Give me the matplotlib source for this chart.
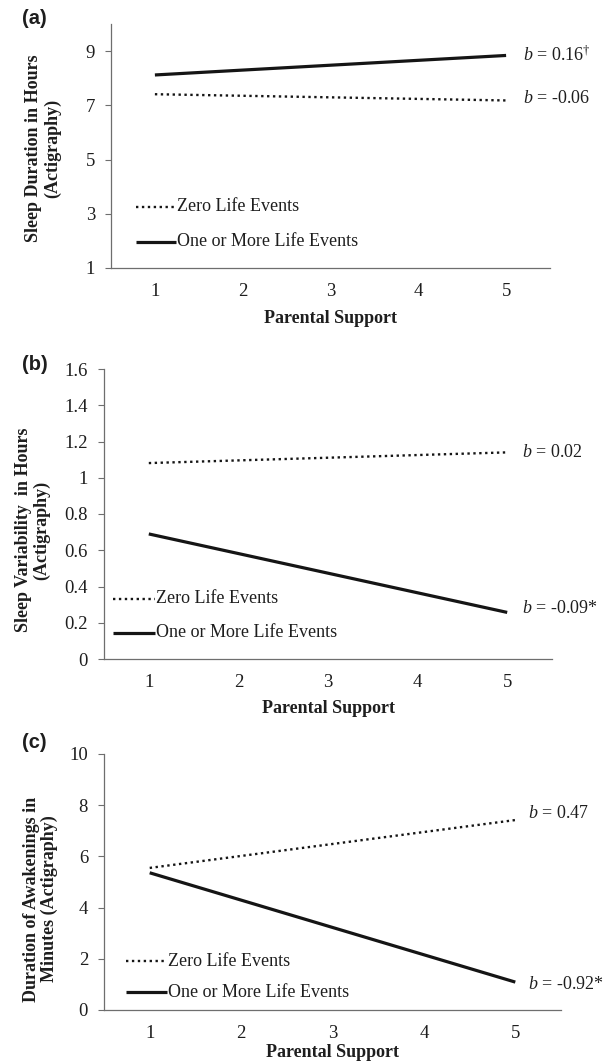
import matplotlib
matplotlib.use("Agg")
import matplotlib.pyplot as plt

# ---- data ----
support = [1, 5]
panel_labels = ["(a)", "(b)", "(c)"]
ylabels = ["Sleep Duration in Hours\n(Actigraphy)",
           "Sleep Variability  in Hours\n(Actigraphy)",
           "Duration of Awakenings in\nMinutes (Actigraphy)"]
xlabel = "Parental Support"
series_names = ["Zero Life Events", "One or More Life Events"]

a_zero = [7.41, 7.18]
a_one = [8.12, 8.84]
b_zero = [1.081, 1.14]
b_one = [0.69, 0.257]
c_zero = [5.55, 7.42]
c_one = [5.36, 1.09]

a_notes = [r"$\it{b}$ = -0.06", r"$\it{b}$ = 0.16$^{\dagger}$"]
b_notes = [r"$\it{b}$ = 0.02", r"$\it{b}$ = -0.09*"]
c_notes = [r"$\it{b}$ = 0.47", r"$\it{b}$ = -0.92*"]

a_yticks = [1, 3, 5, 7, 9]
b_yticks = [0, 0.2, 0.4, 0.6, 0.8, 1.0, 1.2, 1.4, 1.6]
b_yticklabels = ["0", "0.2", "0.4", "0.6", "0.8", "1", "1.2", "1.4", "1.6"]
c_yticks = [0, 2, 4, 6, 8, 10]
xticks = [1, 2, 3, 4, 5]

plt.rcParams['font.family'] = ['Liberation Serif', 'DejaVu Serif']
plt.rcParams['mathtext.fontset'] = 'custom'
plt.rcParams['mathtext.rm'] = 'Liberation Serif'
plt.rcParams['mathtext.it'] = 'Liberation Serif:italic'
plt.rcParams['mathtext.bf'] = 'Liberation Serif:bold'

TXT = '#1e1e1e'
LINE = '#151515'
SPINE = '#6e6e6e'

fig = plt.figure(figsize=(6.07, 10.64), dpi=100)

W, H = 607, 1064
def ax_at(left, top, right, bottom):
    return fig.add_axes([left / W, 1 - bottom / H, (right - left) / W, (bottom - top) / H])

axes = [ax_at(111, 24, 550, 268), ax_at(104, 369, 552, 659), ax_at(104, 754, 561, 1010)]
ylims = [(1, 10), (0, 1.6), (0, 10)]
yticks = [a_yticks, b_yticks, c_yticks]
yticklabels = [[str(t) for t in a_yticks], b_yticklabels, [str(t) for t in c_yticks]]
zeros = [a_zero, b_zero, c_zero]
ones = [a_one, b_one, c_one]
notes = [a_notes, b_notes, c_notes]
leg_x = [(0.057, 0.148), (0.02, 0.114), (0.048, 0.138)]
leg_y = [(0.252, 0.107), (0.207, 0.09), (0.19, 0.07)]
note_dx = [12, 11, 9]
note_dy = [(1.5, 0), (0, 3), (4.5, -2)]
ylab_coords = [(-0.114, 0.49), (-0.12, 0.445), (-0.10, 0.434)]
xlab_y = [-0.172, -0.142, -0.132]
letter_pos = [(22, 18), (22, 365), (22, 743)]

DOT = (0, (1, 1.5))

for i, ax in enumerate(axes):
    ax.plot(support, zeros[i], color=LINE, lw=1.7, linestyle=DOT,
            dash_capstyle='butt')
    ax.plot(support, ones[i], color=LINE, lw=2.3, solid_capstyle='butt')
    ax.set_xlim(0.5, 5.5)
    ax.set_ylim(*ylims[i])
    ax.set_xticks(xticks)
    ax.set_yticks(yticks[i])
    ax.set_yticklabels(yticklabels[i])
    ax.tick_params(axis='both', labelsize=13.5, labelcolor=TXT, length=4,
                   width=0.8, color=SPINE)
    ax.tick_params(axis='y', pad=7.5)
    ax.tick_params(axis='x', length=0, pad=11)
    for s in ['top', 'right']:
        ax.spines[s].set_visible(False)
    for s in ['left', 'bottom']:
        ax.spines[s].set_color(SPINE)
        ax.spines[s].set_linewidth(0.9)
    ax.set_ylabel(ylabels[i], fontsize=13, fontweight='bold', linespacing=1.1,
                  color=TXT)
    ax.yaxis.set_label_coords(*ylab_coords[i])
    ax.set_xlabel(xlabel, fontsize=13, fontweight='bold', color=TXT)
    ax.xaxis.set_label_coords(0.5, xlab_y[i])
    # annotations
    ax.annotate(notes[i][0], xy=(support[-1], zeros[i][-1]),
                xytext=(note_dx[i], note_dy[i][0]), textcoords='offset points',
                fontsize=13, va='center', ha='left', color=TXT)
    ax.annotate(notes[i][1], xy=(support[-1], ones[i][-1]),
                xytext=(note_dx[i], note_dy[i][1]), textcoords='offset points',
                fontsize=13, va='center', ha='left', color=TXT)
    # legend
    x0, x1 = leg_x[i]
    ax.plot([x0, x1], [leg_y[i][0]] * 2, transform=ax.transAxes, color=LINE,
            lw=1.7, linestyle=DOT)
    ax.plot([x0, x1], [leg_y[i][1]] * 2, transform=ax.transAxes, color=LINE,
            lw=2.3, solid_capstyle='butt')
    ax.text(x1 + 0.002, leg_y[i][0], series_names[0], transform=ax.transAxes,
            fontsize=13, va='center', ha='left', color=TXT)
    ax.text(x1 + 0.002, leg_y[i][1], series_names[1], transform=ax.transAxes,
            fontsize=13, va='center', ha='left', color=TXT)
    lx, ly = letter_pos[i]
    fig.text(lx / W, 1 - ly / H, panel_labels[i], fontsize=14.5, fontweight='bold',
             family='Liberation Sans', va='center', ha='left', color=TXT)

fig.savefig("out.png", dpi=100)
